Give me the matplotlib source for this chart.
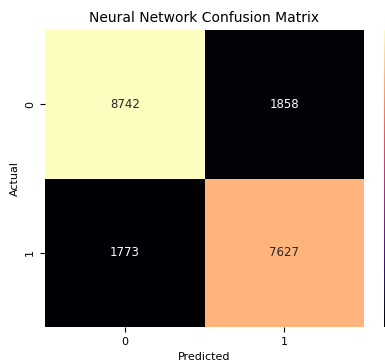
import numpy as np
import matplotlib
matplotlib.use("Agg")
import matplotlib.pyplot as plt
import seaborn as sns

labels = ["0", "1"]
cm = np.array([[8742, 1858],
               [1773, 7627]])

fig = plt.figure(figsize=(3.85, 3.63), dpi=100)
ax = fig.add_axes([45 / 385, 36 / 363, 319 / 385, 297 / 363])
# colorbar sits right at the edge, only its left side shows (as in the reference)
cax = fig.add_axes([384 / 385, 36 / 363, 15 / 385, 297 / 363])

sns.heatmap(cm, annot=True, fmt="d", cmap="magma", ax=ax, cbar_ax=cax,
            xticklabels=labels, yticklabels=labels,
            annot_kws={"fontsize": 8.5})
ax.set_title("Neural Network Confusion Matrix", fontsize=10)
ax.set_xlabel("Predicted", fontsize=8)
ax.set_ylabel("Actual", fontsize=8)
ax.tick_params(labelsize=8)
cax.tick_params(labelright=False, right=False)

fig.savefig("out.png", dpi=100)
